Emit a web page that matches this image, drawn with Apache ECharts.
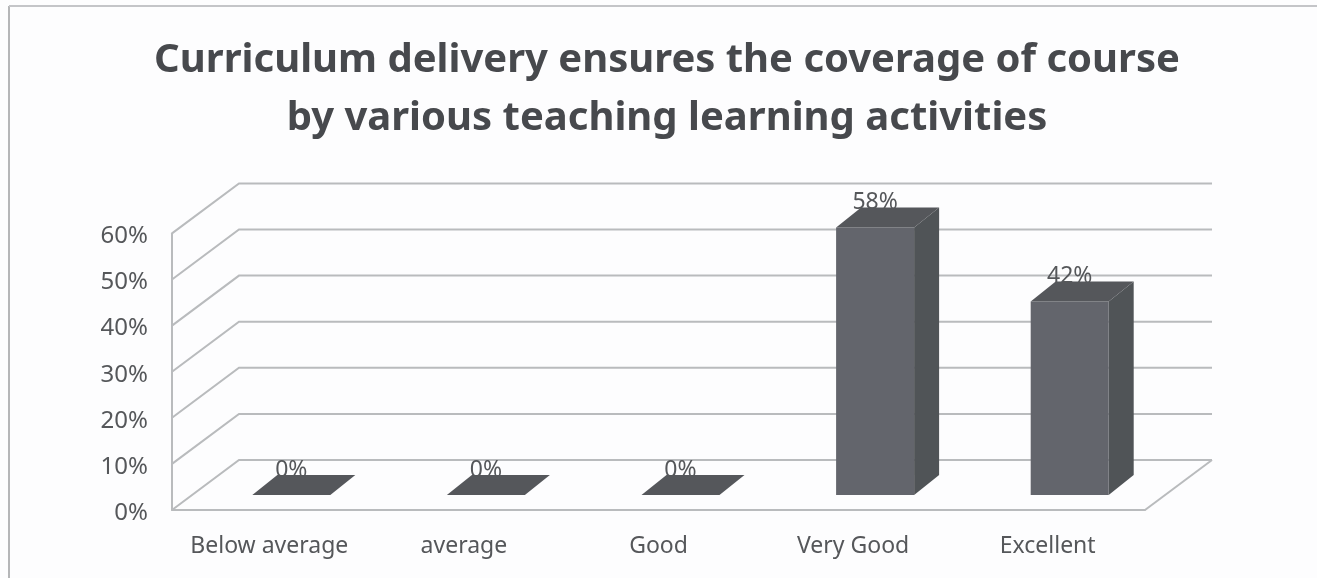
<!DOCTYPE html>
<html><head><meta charset="utf-8">
<style>html,body{margin:0;padding:0;background:#fdfdfe}#c{width:1317px;height:578px}</style>
<script src="https://cdn.jsdelivr.net/npm/echarts@6/dist/echarts.min.js"></script>
</head><body><div id="c"></div>
<script>
const titleText = "Curriculum delivery ensures the coverage of course\nby various teaching learning activities";
const categories = ["Below average", "average", "Good", "Very Good", "Excellent"];
const percentValues = [0, 0, 0, 58, 42];
const gridTicks = [0, 10, 20, 30, 40, 50, 60];

const FONT = "'Noto Sans', sans-serif";
const WALL_DX = 67, WALL_DY = -50;      // depth of the chart floor
const BAR_SHIFT_X = 22, BAR_SHIFT_Y = -15; // bar front face inside the floor
const BAR_W = 78, BAR_DX = 25, BAR_DY = -20;
const LINE = '#b9bbbd';

const chart = echarts.init(document.getElementById('c'), null, {renderer: 'canvas'});

function renderGrid(params, api) {
  const cs = params.coordSys;
  const y = api.coord([0, api.value(0)])[1];
  const left = cs.x, right = cs.x + cs.width;
  const children = [{
    type: 'polyline',
    shape: {points: [[left, y], [left + WALL_DX, y + WALL_DY], [right + WALL_DX, y + WALL_DY]]},
    style: {stroke: LINE, fill: null, lineWidth: 2}
  }];
  if (api.value(0) === 0) {
    children.push({
      type: 'line',
      shape: {x1: right, y1: y, x2: right + WALL_DX, y2: y + WALL_DY},
      style: {stroke: LINE, lineWidth: 2}
    });
  }
  return {type: 'group', children};
}

function renderBar(params, api) {
  const idx = api.value(0), val = api.value(1);
  const top = api.coord([idx, val]), base = api.coord([idx, 0]);
  const x0 = top[0] + BAR_SHIFT_X - BAR_W / 2, x1 = x0 + BAR_W;
  const yt = top[1] + BAR_SHIFT_Y, yb = base[1] + BAR_SHIFT_Y;
  const children = [];
  if (val > 0) {
    children.push({type: 'polygon',
      shape: {points: [[x1, yt], [x1 + BAR_DX, yt + BAR_DY], [x1 + BAR_DX, yb + BAR_DY], [x1, yb]]},
      style: {fill: '#505457'}});
    children.push({type: 'rect', shape: {x: x0, y: yt, width: BAR_W, height: yb - yt},
      style: {fill: '#63656c'}});
  }
  children.push({type: 'polygon',
    shape: {points: [[x0, yt], [x1, yt], [x1 + BAR_DX, yt + BAR_DY], [x0 + BAR_DX, yt + BAR_DY]]},
    style: {fill: '#55575b'}});
  children.push({type: 'text',
    style: {text: val + '%', x: x0 + BAR_W / 2, y: yt + BAR_DY - 5,
      align: 'center', verticalAlign: 'middle',
      font: "23px " + FONT, fill: '#55575a'}});
  return {type: 'group', children};
}

chart.setOption({
  backgroundColor: '#fdfdfe',
  animation: false,
  title: {
    text: titleText, left: 662, top: 27, textAlign: 'center',
    textStyle: {fontFamily: FONT, fontWeight: 'bold', fontSize: 40, lineHeight: 58, color: '#47494d'}
  },
  grid: {left: 172, right: 172, top: 233.4, bottom: 68},
  xAxis: {
    type: 'category', data: categories,
    axisLine: {show: true, lineStyle: {color: LINE, width: 2}},
    axisTick: {show: false},
    axisLabel: {margin: 25, fontFamily: FONT, fontSize: 23, color: '#55575a', interval: 0}
  },
  yAxis: {
    type: 'value', min: 0, max: 60, interval: 10,
    axisLine: {show: true, lineStyle: {color: LINE, width: 2}},
    axisTick: {show: false},
    splitLine: {show: false},
    axisLabel: {formatter: '{value}%', margin: 24, verticalAlign: 'top', lineHeight: 6, fontFamily: FONT, fontSize: 24, color: '#55575a'}
  },
  graphic: [
    {type: 'line', shape: {x1: 9, y1: 6, x2: 9, y2: 578}, style: {stroke: '#b5b6b8', lineWidth: 2}, silent: true},
    {type: 'line', shape: {x1: 9, y1: 6, x2: 1317, y2: 6}, style: {stroke: '#c4c5c8', lineWidth: 2}, silent: true}
  ],
  series: [
    {type: 'custom', renderItem: renderGrid, clip: false, silent: true,
     encode: {y: 0}, data: gridTicks.map(v => [v])},
    {type: 'custom', renderItem: renderBar, clip: false, silent: true,
     encode: {x: 0, y: 1}, data: percentValues.map((v, i) => [i, v])}
  ]
});
</script></body></html>
